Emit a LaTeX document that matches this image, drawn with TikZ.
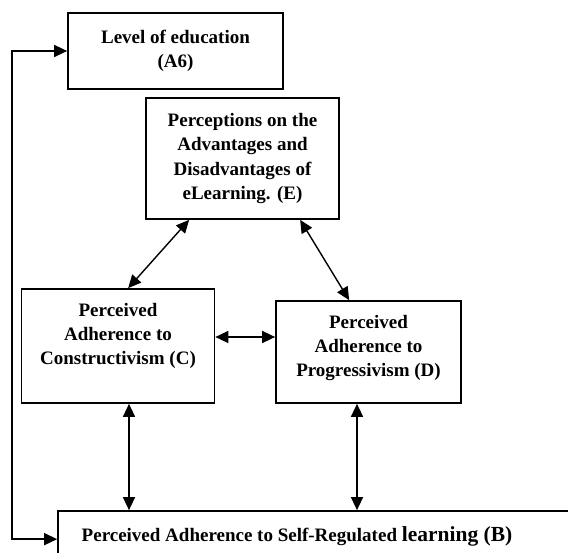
\documentclass[tikz,border=0pt]{standalone}
\usepackage{fontspec}
\setmainfont{Liberation Serif}
\usetikzlibrary{arrows.meta}
\tikzset{
  box/.style={draw, line width=1.7pt, inner sep=0pt},
  lbl/.style={align=center, font=\bfseries\fontsize{19}{24.3}\selectfont, inner sep=0pt},
  conn/.style={line width=1.4pt, {Triangle[length=13pt,width=12pt]}-{Triangle[length=13pt,width=12pt]}}
}
\begin{document}
\begin{tikzpicture}[x=1pt,y=-1pt]
\useasboundingbox (0,0) rectangle (568,553);
\clip (0,0) rectangle (568,553);
% boxes
\node[box, minimum width=215pt, minimum height=76pt] (A6) at (175.5,51) {};
\node[lbl] (tA6) at (175.5,51) {Level of education\\(A6)};
\node[box, minimum width=193pt, minimum height=121pt] (E) at (242.5,158.5) {};
\node[lbl] (tE) at (242.5,158.5) {Perceptions on the\\Advantages and\\Disadvantages of\\eLearning. (E)};
\node[box, minimum width=193pt, minimum height=114pt] (C) at (118,346) {};
\node[lbl] (tC) at (118,336) {Perceived\\Adherence to\\Constructivism (C)};
\node[box, minimum width=185pt, minimum height=102pt] (D) at (368.5,352) {};
\node[lbl] (tD) at (368.5,348) {Perceived\\Adherence to\\Progressivism (D)};
\node[box, minimum width=544pt, minimum height=68pt] (B) at (330,545) {};
\node[lbl, anchor=base] (tB) at (297,541) {Perceived Adherence to Self-Regulated {\fontsize{21.5}{24}\selectfont learning (B)}};
% connectors
\draw[conn] ([xshift=44pt]E.south west) -- ([xshift=107.5pt]C.north west);
\draw[conn] ([xshift=155pt]E.south west) -- ([xshift=74pt]D.north west);
\draw[conn] ([yshift=9pt]C.east) -- ([yshift=9pt]C.east -| D.west);
\coordinate (cb) at ([xshift=11pt]C.south);
\draw[conn] (cb) -- (cb |- B.north);
\coordinate (db) at ([xshift=-11.5pt]D.south);
\draw[conn] (db) -- (db |- B.north);
\draw[conn] (A6.west) -- ++(-55,0) |- ([yshift=-29pt]B.north west);
\end{tikzpicture}
\end{document}
